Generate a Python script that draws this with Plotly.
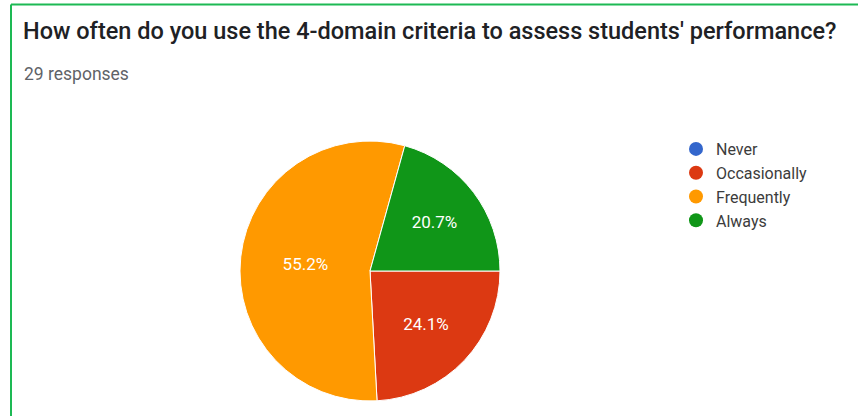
import plotly.graph_objects as go

# Survey answers and their response counts (29 responses in total)
categories = ["Never", "Occasionally", "Frequently", "Always"]
counts = [0, 7, 16, 6]
colors = ["#3366cc", "#dc3912", "#ff9900", "#109618"]
title_text = "How often do you use the 4-domain criteria to assess students' performance?"
subtitle_text = "29 responses"

W, H = 858, 416

fig = go.Figure()

# Pie: first slice starts at 3 o'clock and runs clockwise
cx, cy, r = 370, 271, 130
fig.add_trace(go.Pie(
    labels=categories,
    values=counts,
    sort=False,
    direction="clockwise",
    rotation=90,
    marker=dict(colors=colors, line=dict(color="#ffffff", width=1)),
    textinfo="percent",
    textposition="inside",
    insidetextorientation="horizontal",
    textfont=dict(family="Roboto, Arial, sans-serif", size=17, color="#ffffff"),
    showlegend=False,
    hoverinfo="label+percent",
    domain=dict(x=[(cx - r) / W, (cx + r) / W],
                y=[(H - cy - r) / H, (H - cy + r) / H]),
))

# Round legend markers, one per category
for name, col in zip(categories, colors):
    fig.add_trace(go.Scatter(
        x=[None], y=[None], mode="markers", name=name,
        marker=dict(color=col, size=14, symbol="circle"),
        showlegend=True,
    ))

green = "#1db954"
fig.update_layout(
    width=W, height=H,
    margin=dict(l=0, r=0, t=0, b=0),
    paper_bgcolor="#ffffff",
    plot_bgcolor="#ffffff",
    xaxis=dict(visible=False),
    yaxis=dict(visible=False),
    legend=dict(
        x=676 / W, y=1 - 132 / H, xanchor="left", yanchor="top",
        font=dict(family="Roboto, Arial, sans-serif", size=16, color="#3c3c3c"),
        bgcolor="rgba(0,0,0,0)", itemwidth=30,
        tracegroupgap=0,
    ),
    annotations=[
        dict(text=title_text, xref="paper", yref="paper",
             x=21 / W, y=1 - 31 / H, xanchor="left", yanchor="middle",
             showarrow=False,
             font=dict(family="Roboto, Arial, sans-serif", size=23.5,
                       color="#202124", weight=500)),
        dict(text=subtitle_text, xref="paper", yref="paper",
             x=22 / W, y=1 - 74 / H, xanchor="left", yanchor="middle",
             showarrow=False,
             font=dict(family="Roboto, Arial, sans-serif", size=17.5,
                       color="#5f6368")),
    ],
    shapes=[
        dict(type="line", xref="paper", yref="paper",
             x0=11 / W, x1=1, y0=1 - 4.5 / H, y1=1 - 4.5 / H,
             line=dict(color=green, width=2)),
        dict(type="line", xref="paper", yref="paper",
             x0=11 / W, x1=11 / W, y0=0, y1=1 - 4.5 / H,
             line=dict(color=green, width=2)),
    ],
)

fig.write_html("out.html")
